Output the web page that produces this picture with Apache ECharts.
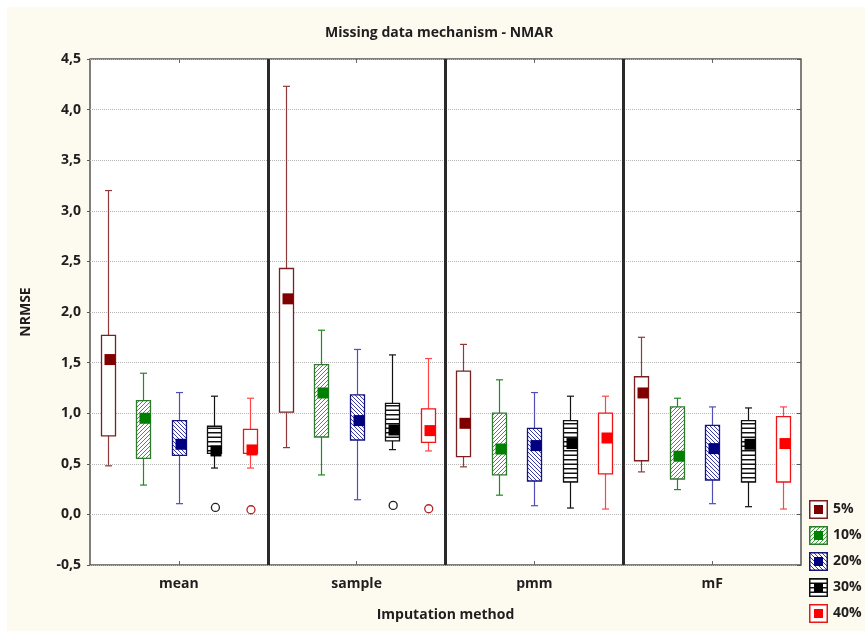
<!DOCTYPE html>
<html>
<head>
<meta charset="utf-8">
<script src="https://cdn.jsdelivr.net/npm/echarts@6/dist/echarts.min.js"></script>
<style>
html, body { margin: 0; padding: 0; background: #fff; }
#paper { position: absolute; left: 7px; top: 7px; width: 858px; height: 624px; background: #fdfaef; }
#chart { position: absolute; left: 0; top: 0; width: 865px; height: 631px; }
</style>
</head>
<body>
<div id="paper"></div>
<div id="chart"></div>
<script>
// categories / groups
var methods = ['mean', 'sample', 'pmm', 'mF']
var rates = ['5%', '10%', '20%', '30%', '40%']
var yMin = -0.5
var yMax = 4.5
var yStep = 0.5

// [low whisker, q1, median, q3, high whisker] per method
var box5 = [[0.48, 0.775, 1.53, 1.77, 3.20], [0.66, 1.01, 2.13, 2.43, 4.23], [0.47, 0.57, 0.90, 1.415, 1.68], [0.42, 0.53, 1.20, 1.36, 1.75]]
var box10 = [[0.29, 0.554, 0.95, 1.125, 1.395], [0.39, 0.765, 1.20, 1.48, 1.82], [0.19, 0.39, 0.646, 1.0, 1.33], [0.245, 0.35, 0.575, 1.062, 1.148]]
var box20 = [[0.106, 0.584, 0.693, 0.927, 1.204], [0.145, 0.735, 0.927, 1.181, 1.63], [0.086, 0.33, 0.68, 0.85, 1.204], [0.106, 0.34, 0.65, 0.88, 1.062]]
var box30 = [[0.458, 0.604, 0.627, 0.871, 1.168], [0.64, 0.726, 0.834, 1.098, 1.576], [0.063, 0.32, 0.70, 0.927, 1.168], [0.076, 0.32, 0.693, 0.927, 1.052]]
var box40 = [[0.458, 0.604, 0.637, 0.841, 1.148], [0.627, 0.712, 0.828, 1.042, 1.54], [0.053, 0.40, 0.755, 1.0, 1.168], [0.053, 0.32, 0.70, 0.966, 1.062]]
// outliers: [method index, value]
var out30 = [[0, 0.069], [1, 0.089]]
var out40 = [[0, 0.046], [1, 0.056]]

var boxes = [box5, box10, box20, box30, box40]
var outs = [[], [], [], out30, out40]

var FONT = '"Open Sans", "Noto Sans", sans-serif'

// look of each rate
var looks = [
  { line: '#8e3a3a', edge: '#7a2020', mid: '#800000', hatch: null, ring: '#a03030' },
  { line: '#1e8c1e', edge: '#2d7a2d', mid: '#008000', hatch: '/', ink: '#3a9e3a' },
  { line: '#5050b4', edge: '#14147a', mid: '#000080', hatch: '\\', ink: '#3a3aa8' },
  { line: '#111111', edge: '#111111', mid: '#000000', hatch: '-', ink: '#111111', ring: '#222222' },
  { line: '#ff4545', edge: '#ee1515', mid: '#ff0000', hatch: null, ring: '#b02525' }
]

// small hatch tile
function hatchTile (kind, ink) {
  var c = document.createElement('canvas')
  c.width = 4
  c.height = kind === '-' ? 9 : 4
  var g = c.getContext('2d')
  g.fillStyle = '#fff'
  g.fillRect(0, 0, c.width, c.height)
  if (kind === '-') {
    // two thin stripes per tile, ~4.5px apart
    g.fillStyle = ink
    g.fillRect(0, 0, 4, 1)
    g.fillRect(0, 5, 4, 1)
    g.fillStyle = '#8a8a8a'
    g.fillRect(0, 1, 4, 1)
    g.fillRect(0, 4, 4, 1)
    return c
  }
  g.strokeStyle = ink
  g.lineWidth = 1
  g.beginPath()
  if (kind === '/') {
    g.moveTo(-1, 5); g.lineTo(5, -1)
    g.moveTo(-1, 1); g.lineTo(1, -1)
    g.moveTo(3, 5); g.lineTo(5, 3)
  } else {
    g.moveTo(-1, -1); g.lineTo(5, 5)
    g.moveTo(3, -1); g.lineTo(5, 1)
    g.moveTo(-1, 3); g.lineTo(1, 5)
  }
  g.stroke()
  return c
}

var fills = looks.map(function (lk) {
  return lk.hatch ? { image: hatchTile(lk.hatch, lk.ink), repeat: 'repeat' } : '#ffffff'
})

// legend icon: box with hatch and median square
function legendIcon (k) {
  var lk = looks[k]
  var c = document.createElement('canvas')
  c.width = 19
  c.height = 19
  var g = c.getContext('2d')
  if (lk.hatch) {
    g.fillStyle = g.createPattern(hatchTile(lk.hatch, lk.ink), 'repeat')
  } else {
    g.fillStyle = '#fff'
  }
  g.fillRect(0, 0, 19, 19)
  g.strokeStyle = lk.edge
  g.lineWidth = 1.5
  g.strokeRect(0.75, 0.75, 17.5, 17.5)
  g.fillStyle = lk.mid
  g.fillRect(5, 5, 9, 9)
  return 'image://' + c.toDataURL()
}

function boxRender (k) {
  var lk = looks[k]
  return function (params, api) {
    var ci = api.value(0)
    var bw = api.size([1, 0])[0]
    var cx = Math.round(api.coord([ci, 0])[0] + (k - 2) * bw * 0.2) + 0.5
    var yLo = api.coord([ci, api.value(1)])[1]
    var yQ1 = api.coord([ci, api.value(2)])[1]
    var yMd = api.coord([ci, api.value(3)])[1]
    var yQ3 = api.coord([ci, api.value(4)])[1]
    var yHi = api.coord([ci, api.value(5)])[1]
    var half = Math.round(bw * 0.04)
    var cap = 3.5
    var sq = 5.5
    var ls = { stroke: lk.line, lineWidth: 1.2 }
    return {
      type: 'group',
      children: [
        { type: 'line', shape: { x1: cx, y1: yHi, x2: cx, y2: yQ3 }, style: ls },
        { type: 'line', shape: { x1: cx - cap, y1: yHi, x2: cx + cap, y2: yHi }, style: ls },
        { type: 'line', shape: { x1: cx, y1: yQ1, x2: cx, y2: yLo }, style: ls },
        { type: 'line', shape: { x1: cx - cap, y1: yLo, x2: cx + cap, y2: yLo }, style: ls },
        {
          type: 'rect',
          shape: { x: cx - half, y: yQ3, width: half * 2, height: yQ1 - yQ3 },
          style: { fill: fills[k], stroke: lk.edge, lineWidth: 1.3 }
        },
        {
          type: 'rect',
          shape: { x: cx - sq + 1.5, y: yMd - sq, width: sq * 2, height: sq * 2 },
          style: { fill: lk.mid }
        }
      ]
    }
  }
}

function ringRender (k) {
  var lk = looks[k]
  return function (params, api) {
    var ci = api.value(0)
    var bw = api.size([1, 0])[0]
    var cx = api.coord([ci, 0])[0] + (k - 2) * bw * 0.2 + 1
    var p = api.coord([ci, api.value(1)])
    return {
      type: 'circle',
      shape: { cx: cx, cy: p[1], r: 4 },
      style: { fill: '#fff', stroke: lk.ring, lineWidth: 1.3 }
    }
  }
}

var series = []
rates.forEach(function (r, k) {
  series.push({
    name: r,
    type: 'custom',
    renderItem: boxRender(k),
    itemStyle: { color: looks[k].mid },
    encode: { x: 0, y: [1, 2, 3, 4, 5] },
    data: boxes[k].map(function (b, i) { return [i].concat(b) }),
    z: 3
  })
  if (outs[k].length) {
    series.push({
      name: r + ' outliers',
      type: 'custom',
      renderItem: ringRender(k),
      encode: { x: 0, y: 1 },
      data: outs[k],
      z: 3
    })
  }
})

var myChart = echarts.init(document.getElementById('chart'))
var boldText = { fontFamily: FONT, fontWeight: 'bold', fontSize: 14, color: '#1e1e1e' }

myChart.setOption({
  backgroundColor: 'transparent',
  animation: false,
  title: {
    text: 'Missing data mechanism - NMAR',
    left: 320,
    top: 21,
    textStyle: { fontFamily: FONT, fontWeight: 'bold', fontSize: 14, color: '#1e1e1e' }
  },
  legend: {
    type: 'plain',
    orient: 'vertical',
    left: 809,
    top: 500,
    padding: 0,
    itemWidth: 19,
    itemHeight: 19,
    itemGap: 7,
    selectedMode: false,
    textStyle: boldText,
    data: rates.map(function (r, k) { return { name: r, icon: legendIcon(k) } })
  },
  grid: {
    left: 90,
    top: 59,
    width: 711,
    height: 506,
    show: true,
    backgroundColor: '#ffffff',
    borderColor: '#555555',
    borderWidth: 1.5
  },
  xAxis: [{
    type: 'category',
    data: methods,
    position: 'bottom',
    axisLine: { show: false, onZero: false },
    axisTick: { show: true, inside: true, alignWithLabel: true, length: 4, lineStyle: { color: '#666' } },
    axisLabel: Object.assign({ margin: 12 }, boldText),
    splitLine: { show: true, showMinLine: false, showMaxLine: false, lineStyle: { color: '#2a2a2a', width: 3 } },
    name: 'Imputation method',
    nameLocation: 'middle',
    nameGap: 43,
    nameTextStyle: boldText
  }, {
    type: 'category',
    data: methods,
    position: 'top',
    axisLine: { show: false, onZero: false },
    axisTick: { show: true, inside: true, alignWithLabel: true, length: 4, lineStyle: { color: '#666' } },
    axisLabel: { show: false },
    splitLine: { show: false }
  }],
  yAxis: [{
    type: 'value',
    min: yMin,
    max: yMax,
    interval: yStep,
    axisLine: { show: false },
    axisTick: { show: true, length: 3, lineStyle: { color: '#555' } },
    axisLabel: Object.assign({
      margin: 9,
      formatter: function (v) { return v.toFixed(1).replace('.', ',') }
    }, boldText),
    splitLine: { show: true, lineStyle: { color: '#b4b4b4', type: 'dotted', width: 1 } },
    name: 'NRMSE',
    nameLocation: 'middle',
    nameGap: 57,
    nameTextStyle: boldText
  }, {
    type: 'value',
    min: yMin,
    max: yMax,
    interval: yStep,
    position: 'right',
    axisLine: { show: false },
    axisTick: { show: true, inside: true, length: 4, lineStyle: { color: '#555' } },
    axisLabel: { show: false },
    splitLine: { show: false }
  }],
  series: series
})
</script>
</body>
</html>
